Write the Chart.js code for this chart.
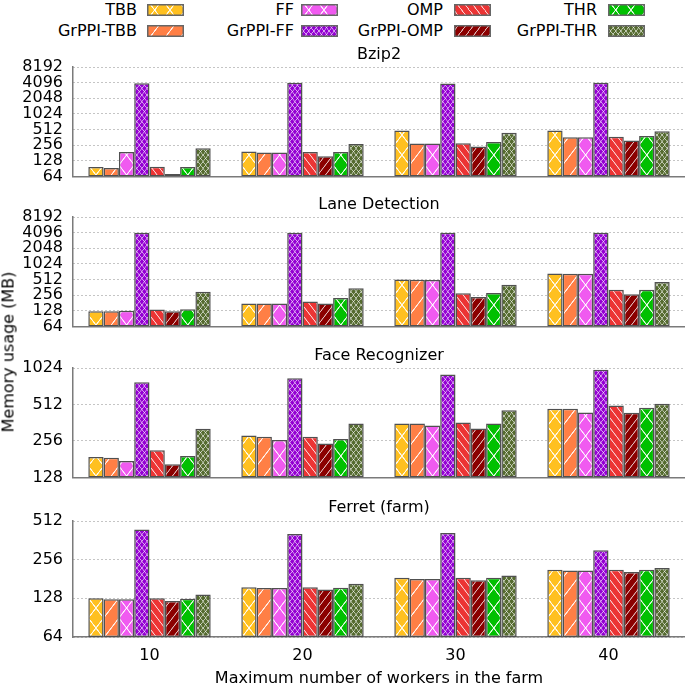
<!DOCTYPE html>
<html>
<head>
<meta charset="utf-8">
<script src="https://cdn.jsdelivr.net/npm/chart.js@4.4.1/dist/chart.umd.min.js"></script>
<style>
  html, body { margin: 0; padding: 0; background: #fff; }
  #root { position: relative; width: 685px; height: 689px; overflow: hidden; font-family: 'DejaVu Sans', sans-serif; color: #000; }
  #root canvas.panel { position: absolute; left: 0; }
  .lgtext { position: absolute; font-size: 16px; line-height: 20px; white-space: nowrap; text-align: right; color: #000; }
  .lgbox { position: absolute; }
  #ytitle { position: absolute; left: 8px; top: 352px; font-size: 16px; color: #000; white-space: nowrap; transform: translate(-50%, -50%) rotate(-90deg); }
</style>
</head>
<body>
<div id="root">
  <canvas class="panel" id="c1" width="685" height="151" style="top:45px"></canvas>
  <canvas class="panel" id="c2" width="685" height="151" style="top:195px"></canvas>
  <canvas class="panel" id="c3" width="685" height="151" style="top:346px"></canvas>
  <canvas class="panel" id="c4" width="685" height="191" style="top:498px"></canvas>
  <div id="legend"></div>
  <div id="ytitle">Memory usage (MB)</div>
</div>
<script>
// ---------- data ----------
const categories = ['10', '20', '30', '40'];
const seriesNames = ['TBB', 'GrPPI-TBB', 'FF', 'GrPPI-FF', 'OMP', 'GrPPI-OMP', 'THR', 'GrPPI-THR'];
const panelTitles = ['Bzip2', 'Lane Detection', 'Face Recognizer', 'Ferret (farm)'];
const xAxisTitle = 'Maximum number of workers in the farm';

// rows follow seriesNames order, columns follow categories
const bzip2Values = [
  [97, 194, 491, 491],
  [93, 184, 274, 362],
  [189, 184, 274, 362],
  [3980, 4096, 3930, 4096],
  [98, 189, 278, 372],
  [71, 157, 242, 315],
  [97, 189, 294, 383],
  [223, 270, 446, 472]
];
const laneValues = [
  [125, 176, 512, 666],
  [125, 176, 505, 660],
  [128, 176, 500, 660],
  [4096, 4096, 4096, 4096],
  [135, 194, 278, 324],
  [125, 176, 236, 267],
  [137, 226, 280, 324],
  [298, 347, 404, 458]
];
const faceValues = [
  [189, 284, 357, 471],
  [186, 277, 356, 471],
  [175, 261, 343, 440],
  [782, 843, 903, 990],
  [214, 277, 364, 502],
  [164, 244, 325, 437],
  [192, 265, 356, 481],
  [322, 357, 458, 520]
];
const ferretValues = [
  [128, 156, 185, 214],
  [126, 154, 181, 211],
  [126, 154, 181, 211],
  [439, 405, 413, 303],
  [128, 156, 185, 214],
  [122, 150, 177, 205],
  [127, 155, 185, 214],
  [137, 166, 193, 220]
];

const bzip2Ticks = [64, 128, 256, 512, 1024, 2048, 4096, 8192];
const laneTicks = [64, 128, 256, 512, 1024, 2048, 4096, 8192];
const faceTicks = [128, 256, 512, 1024];
const ferretTicks = [64, 128, 256, 512];

// ---------- styles ----------
const seriesColors = ['#ffc020', '#ff7f45', '#f05af0', '#9400d3', '#ec3434', '#8b0000', '#00c000', '#556b2f'];
// pattern: [kind, density, white line width in px, line alpha]
const seriesHatch = [
  ['x', 1, 1.1, 0.9], ['/', 1, 1.1, 0.9], ['x', 1, 1.1, 0.9], ['x', 3, 0.7, 0.65],
  ['\\', 2, 0.9, 0.8], ['/', 2, 0.9, 0.75], ['x', 1, 1.1, 0.9], ['x', 3, 0.7, 0.65]
];

const FONT = { family: "'DejaVu Sans', sans-serif", size: 16, weight: 'normal' };

function makeTile(color, hatch) {
  const W = 46, H = 60;
  const c = document.createElement('canvas');
  c.width = W; c.height = H;
  const g = c.getContext('2d');
  g.fillStyle = color;
  g.fillRect(0, 0, W, H);
  const [kind, n, lw, alpha] = hatch;
  g.strokeStyle = 'rgba(255,255,255,' + alpha + ')';
  g.lineWidth = lw * 3;
  const fam = (dir) => {
    const step = H / n;
    for (let k = -n - 1; k <= 2 * n + 1; k++) {
      const y0 = k * step;
      g.beginPath();
      if (dir > 0) { g.moveTo(0, y0 + H); g.lineTo(W, y0); }
      else { g.moveTo(0, y0); g.lineTo(W, y0 + H); }
      g.stroke();
    }
  };
  if (kind === 'x') { fam(1); fam(-1); }
  else if (kind === '/') fam(1);
  else fam(-1);
  return c;
}

const tiles = seriesColors.map((col, i) => makeTile(col, seriesHatch[i]));
const helperCtx = document.createElement('canvas').getContext('2d');
const barPatterns = tiles.map(t => {
  const p = helperCtx.createPattern(t, 'repeat');
  p.setTransform(new DOMMatrix([15.3 / 46, 0, 0, 20 / 60, 88.3, 0]));
  return p;
});

// ---------- legend ----------
const legend = document.getElementById('legend');
const lgTextRight = [137, 294, 443, 597];
const lgBoxLeft = [147, 301, 454, 608];
const lgBoxTop = [4, 25];
seriesNames.forEach((name, j) => {
  const col = Math.floor(j / 2), row = j % 2;
  const t = document.createElement('div');
  t.className = 'lgtext';
  t.textContent = name;
  t.style.right = (685 - lgTextRight[col]) + 'px';
  t.style.top = (lgBoxTop[row] + 6 - 10) + 'px';
  legend.appendChild(t);
  const b = document.createElement('canvas');
  b.className = 'lgbox';
  b.width = 37; b.height = 12;
  b.style.left = lgBoxLeft[col] + 'px';
  b.style.top = lgBoxTop[row] + 'px';
  const g = b.getContext('2d');
  const p = g.createPattern(tiles[j], 'repeat');
  p.setTransform(new DOMMatrix([15.3 / 46, 0, 0, 20 / 60, 0, -4]));
  g.fillStyle = p;
  g.fillRect(0, 0, 37, 12);
  g.strokeStyle = '#666';
  g.lineWidth = 1.5;
  g.strokeRect(0.75, 0.75, 35.5, 10.5);
  legend.appendChild(b);
});

// ---------- charts ----------
function makePanel(id, title, values, ticks, showX) {
  return new Chart(document.getElementById(id), {
    type: 'bar',
    data: {
      labels: categories,
      datasets: seriesNames.map((n, j) => ({
        label: n,
        data: values[j],
        backgroundColor: barPatterns[j],
        borderColor: '#505050',
        borderWidth: 1.5,
        borderSkipped: false,
        categoryPercentage: 0.8,
        barPercentage: 1.0
      }))
    },
    options: {
      responsive: false,
      animation: false,
      devicePixelRatio: 1,
      events: [],
      layout: { padding: { top: 0, left: 0, right: 0, bottom: showX ? 0 : 12 } },
      plugins: {
        legend: { display: false },
        tooltip: { enabled: false },
        title: {
          display: true, text: title, fullSize: false, color: '#000',
          font: FONT, padding: { top: 0, bottom: showX ? 3.8 : 2.8 }
        }
      },
      scales: {
        x: {
          type: 'category',
          grid: { display: false, drawTicks: false },
          border: { display: true, color: '#7a7a7a', width: 1.5 },
          ticks: { display: showX, padding: 9, color: '#000', font: FONT, maxRotation: 0 },
          title: { display: showX, text: xAxisTitle, color: '#000', font: FONT, padding: { top: 0, bottom: 1 } },
          afterFit: s => { s.height = showX ? 52 : 0; }
        },
        y: {
          type: 'logarithmic',
          min: ticks[0],
          max: ticks[ticks.length - 1],
          afterBuildTicks: s => { s.ticks = ticks.map(v => ({ value: v })); },
          ticks: { padding: 10, color: '#000', font: FONT, autoSkip: false, callback: v => String(v) },
          grid: { color: '#8a8a8a', lineWidth: 1, drawTicks: false },
          border: { display: true, color: '#7a7a7a', width: 1.5, dash: [1, 3] },
          afterFit: s => { s.width = 73; }
        }
      }
    }
  });
}

makePanel('c1', panelTitles[0], bzip2Values, bzip2Ticks, false);
makePanel('c2', panelTitles[1], laneValues, laneTicks, false);
makePanel('c3', panelTitles[2], faceValues, faceTicks, false);
makePanel('c4', panelTitles[3], ferretValues, ferretTicks, true);
</script>
</body>
</html>
